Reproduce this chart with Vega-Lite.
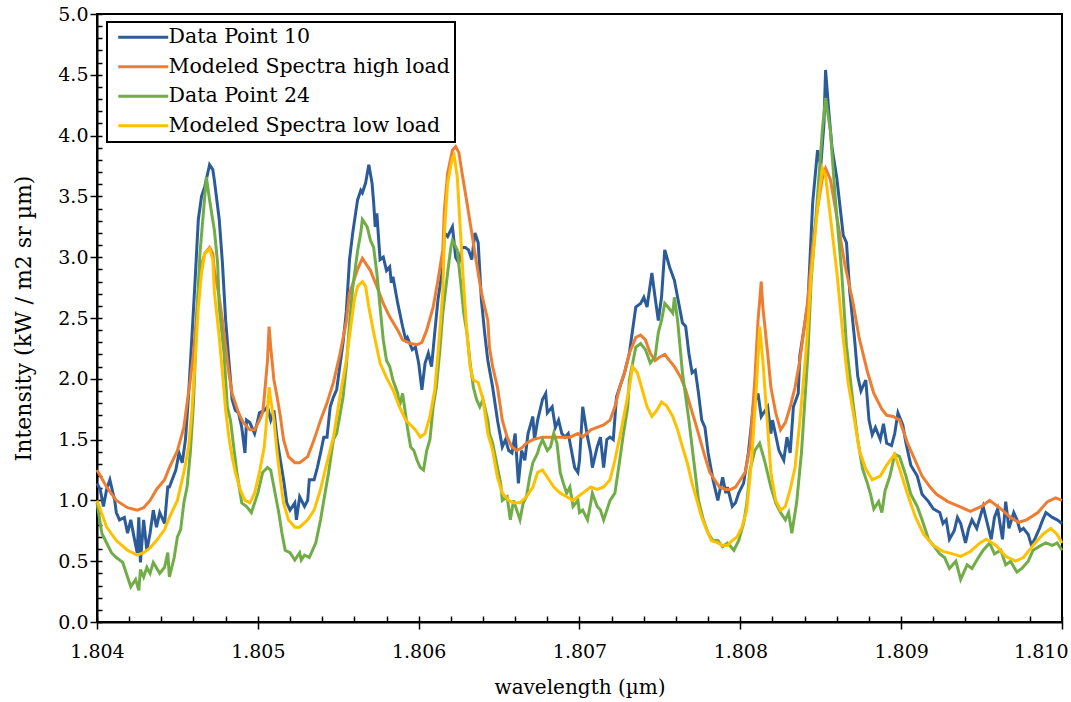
{
"$schema":"https://vega.github.io/schema/vega-lite/v6.json",
"width":965,"height":608,
"autosize":{"type":"none"},
"padding":{"left":97,"top":14,"right":9,"bottom":80},
"background":"white",
"config":{
"view":{"stroke":"black","strokeWidth":2},
"font":"DejaVu Serif",
"axis":{"grid":false,"domainColor":"black","domainWidth":2,"tickColor":"black","tickWidth":1.5,"labelColor":"black","titleColor":"black","labelFont":"DejaVu Serif","titleFont":"DejaVu Serif","titleFontWeight":"normal"},
"legend":{"strokeWidth":2}
},
"datasets":{
"dp10":[
{"wavelength":1.80400,"intensity":1.14},{"wavelength":1.80402,"intensity":1.09},{"wavelength":1.80404,"intensity":0.95},{"wavelength":1.80406,"intensity":1.09},{"wavelength":1.80408,"intensity":1.17},{"wavelength":1.80411,"intensity":1.00},{"wavelength":1.80412,"intensity":0.90},{"wavelength":1.80414,"intensity":0.84},{"wavelength":1.80417,"intensity":0.86},{"wavelength":1.80419,"intensity":0.73},{"wavelength":1.80421,"intensity":0.84},{"wavelength":1.80423,"intensity":0.70},{"wavelength":1.80425,"intensity":0.57},{"wavelength":1.80426,"intensity":0.86},{"wavelength":1.80427,"intensity":0.49},{"wavelength":1.80429,"intensity":0.84},{"wavelength":1.80431,"intensity":0.59},{"wavelength":1.80433,"intensity":0.73},{"wavelength":1.80435,"intensity":0.92},{"wavelength":1.80437,"intensity":0.78},{"wavelength":1.80439,"intensity":0.90},{"wavelength":1.80442,"intensity":0.81},{"wavelength":1.80444,"intensity":1.11},{"wavelength":1.80445,"intensity":1.11},{"wavelength":1.80449,"intensity":1.25},{"wavelength":1.80451,"intensity":1.39},{"wavelength":1.80453,"intensity":1.31},{"wavelength":1.80455,"intensity":1.50},{"wavelength":1.80457,"intensity":1.88},{"wavelength":1.80459,"intensity":2.34},{"wavelength":1.80461,"intensity":2.81},{"wavelength":1.80463,"intensity":3.31},{"wavelength":1.80465,"intensity":3.50},{"wavelength":1.80467,"intensity":3.58},{"wavelength":1.80470,"intensity":3.76},{"wavelength":1.80472,"intensity":3.72},{"wavelength":1.80473,"intensity":3.63},{"wavelength":1.80476,"intensity":3.31},{"wavelength":1.80478,"intensity":2.95},{"wavelength":1.80480,"intensity":2.48},{"wavelength":1.80482,"intensity":2.15},{"wavelength":1.80484,"intensity":1.83},{"wavelength":1.80486,"intensity":1.74},{"wavelength":1.80488,"intensity":1.72},{"wavelength":1.80490,"intensity":1.60},{"wavelength":1.80492,"intensity":1.39},{"wavelength":1.80493,"intensity":1.66},{"wavelength":1.80495,"intensity":1.64},{"wavelength":1.80498,"intensity":1.55},{"wavelength":1.80500,"intensity":1.66},{"wavelength":1.80501,"intensity":1.72},{"wavelength":1.80504,"intensity":1.74},{"wavelength":1.80506,"intensity":1.77},{"wavelength":1.80508,"intensity":1.66},{"wavelength":1.80510,"intensity":1.74},{"wavelength":1.80512,"intensity":1.50},{"wavelength":1.80514,"intensity":1.33},{"wavelength":1.80516,"intensity":1.17},{"wavelength":1.80518,"intensity":0.98},{"wavelength":1.80520,"intensity":0.92},{"wavelength":1.80523,"intensity":0.98},{"wavelength":1.80524,"intensity":0.84},{"wavelength":1.80526,"intensity":1.03},{"wavelength":1.80529,"intensity":0.95},{"wavelength":1.80531,"intensity":1.00},{"wavelength":1.80532,"intensity":1.17},{"wavelength":1.80535,"intensity":1.17},{"wavelength":1.80537,"intensity":1.27},{"wavelength":1.80539,"intensity":1.39},{"wavelength":1.80541,"intensity":1.52},{"wavelength":1.80543,"intensity":1.52},{"wavelength":1.80545,"intensity":1.77},{"wavelength":1.80547,"intensity":1.85},{"wavelength":1.80549,"intensity":1.91},{"wavelength":1.80553,"intensity":2.30},{"wavelength":1.80555,"intensity":2.55},{"wavelength":1.80557,"intensity":2.98},{"wavelength":1.80559,"intensity":3.20},{"wavelength":1.80562,"intensity":3.47},{"wavelength":1.80564,"intensity":3.55},{"wavelength":1.80565,"intensity":3.53},{"wavelength":1.80567,"intensity":3.61},{"wavelength":1.80569,"intensity":3.76},{"wavelength":1.80571,"intensity":3.61},{"wavelength":1.80572,"intensity":3.45},{"wavelength":1.80573,"intensity":3.25},{"wavelength":1.80574,"intensity":3.36},{"wavelength":1.80575,"intensity":3.17},{"wavelength":1.80576,"intensity":2.98},{"wavelength":1.80578,"intensity":3.00},{"wavelength":1.80580,"intensity":2.89},{"wavelength":1.80582,"intensity":2.92},{"wavelength":1.80583,"intensity":2.79},{"wavelength":1.80584,"intensity":2.84},{"wavelength":1.80587,"intensity":2.62},{"wavelength":1.80590,"intensity":2.43},{"wavelength":1.80592,"intensity":2.32},{"wavelength":1.80593,"intensity":2.34},{"wavelength":1.80596,"intensity":2.24},{"wavelength":1.80598,"intensity":2.26},{"wavelength":1.80600,"intensity":2.13},{"wavelength":1.80602,"intensity":1.91},{"wavelength":1.80604,"intensity":2.13},{"wavelength":1.80606,"intensity":2.21},{"wavelength":1.80608,"intensity":2.10},{"wavelength":1.80610,"intensity":2.38},{"wavelength":1.80612,"intensity":2.65},{"wavelength":1.80615,"intensity":2.92},{"wavelength":1.80616,"intensity":3.20},{"wavelength":1.80618,"intensity":3.17},{"wavelength":1.80621,"intensity":3.25},{"wavelength":1.80623,"intensity":3.00},{"wavelength":1.80625,"intensity":2.95},{"wavelength":1.80627,"intensity":3.08},{"wavelength":1.80629,"intensity":3.08},{"wavelength":1.80631,"intensity":3.06},{"wavelength":1.80633,"intensity":2.98},{"wavelength":1.80635,"intensity":3.20},{"wavelength":1.80637,"intensity":3.12},{"wavelength":1.80639,"intensity":2.65},{"wavelength":1.80641,"intensity":2.38},{"wavelength":1.80643,"intensity":2.15},{"wavelength":1.80646,"intensity":1.93},{"wavelength":1.80649,"intensity":1.66},{"wavelength":1.80652,"intensity":1.44},{"wavelength":1.80654,"intensity":1.50},{"wavelength":1.80656,"intensity":1.41},{"wavelength":1.80658,"intensity":1.39},{"wavelength":1.80660,"intensity":1.55},{"wavelength":1.80662,"intensity":1.14},{"wavelength":1.80664,"intensity":1.41},{"wavelength":1.80666,"intensity":1.33},{"wavelength":1.80668,"intensity":1.55},{"wavelength":1.80671,"intensity":1.69},{"wavelength":1.80672,"intensity":1.50},{"wavelength":1.80674,"intensity":1.66},{"wavelength":1.80677,"intensity":1.83},{"wavelength":1.80679,"intensity":1.88},{"wavelength":1.80680,"intensity":1.72},{"wavelength":1.80683,"intensity":1.77},{"wavelength":1.80685,"intensity":1.60},{"wavelength":1.80687,"intensity":1.66},{"wavelength":1.80689,"intensity":1.55},{"wavelength":1.80691,"intensity":1.52},{"wavelength":1.80693,"intensity":1.55},{"wavelength":1.80695,"intensity":1.41},{"wavelength":1.80697,"intensity":1.27},{"wavelength":1.80699,"intensity":1.23},{"wavelength":1.80700,"intensity":1.33},{"wavelength":1.80702,"intensity":1.77},{"wavelength":1.80705,"intensity":1.52},{"wavelength":1.80707,"intensity":1.39},{"wavelength":1.80708,"intensity":1.27},{"wavelength":1.80711,"intensity":1.44},{"wavelength":1.80713,"intensity":1.52},{"wavelength":1.80715,"intensity":1.27},{"wavelength":1.80717,"intensity":1.50},{"wavelength":1.80719,"intensity":1.52},{"wavelength":1.80721,"intensity":1.50},{"wavelength":1.80723,"intensity":1.85},{"wavelength":1.80725,"intensity":1.93},{"wavelength":1.80728,"intensity":2.05},{"wavelength":1.80731,"intensity":2.21},{"wavelength":1.80735,"intensity":2.59},{"wavelength":1.80738,"intensity":2.62},{"wavelength":1.80740,"intensity":2.67},{"wavelength":1.80742,"intensity":2.59},{"wavelength":1.80745,"intensity":2.87},{"wavelength":1.80747,"intensity":2.67},{"wavelength":1.80749,"intensity":2.48},{"wavelength":1.80751,"intensity":2.67},{"wavelength":1.80753,"intensity":3.06},{"wavelength":1.80756,"intensity":2.92},{"wavelength":1.80759,"intensity":2.81},{"wavelength":1.80761,"intensity":2.67},{"wavelength":1.80764,"intensity":2.46},{"wavelength":1.80766,"intensity":2.43},{"wavelength":1.80768,"intensity":2.21},{"wavelength":1.80770,"intensity":2.05},{"wavelength":1.80772,"intensity":2.07},{"wavelength":1.80774,"intensity":1.88},{"wavelength":1.80776,"intensity":1.66},{"wavelength":1.80778,"intensity":1.60},{"wavelength":1.80780,"intensity":1.39},{"wavelength":1.80783,"intensity":1.17},{"wavelength":1.80786,"intensity":1.00},{"wavelength":1.80789,"intensity":1.19},{"wavelength":1.80791,"intensity":1.06},{"wavelength":1.80792,"intensity":1.11},{"wavelength":1.80795,"intensity":0.95},{"wavelength":1.80797,"intensity":0.98},{"wavelength":1.80799,"intensity":1.06},{"wavelength":1.80802,"intensity":1.14},{"wavelength":1.80805,"intensity":1.39},{"wavelength":1.80808,"intensity":1.77},{"wavelength":1.80811,"intensity":1.88},{"wavelength":1.80813,"intensity":1.69},{"wavelength":1.80817,"intensity":1.77},{"wavelength":1.80819,"intensity":1.55},{"wavelength":1.80820,"intensity":1.66},{"wavelength":1.80824,"intensity":1.41},{"wavelength":1.80827,"intensity":1.33},{"wavelength":1.80829,"intensity":1.52},{"wavelength":1.80831,"intensity":1.39},{"wavelength":1.80833,"intensity":1.77},{"wavelength":1.80836,"intensity":1.88},{"wavelength":1.80837,"intensity":2.19},{"wavelength":1.80842,"intensity":2.62},{"wavelength":1.80845,"intensity":3.45},{"wavelength":1.80848,"intensity":3.88},{"wavelength":1.80850,"intensity":3.75},{"wavelength":1.80852,"intensity":4.10},{"wavelength":1.80853,"intensity":4.54},{"wavelength":1.80855,"intensity":4.20},{"wavelength":1.80857,"intensity":3.90},{"wavelength":1.80860,"intensity":3.65},{"wavelength":1.80864,"intensity":3.18},{"wavelength":1.80866,"intensity":3.12},{"wavelength":1.80868,"intensity":2.72},{"wavelength":1.80871,"intensity":2.33},{"wavelength":1.80873,"intensity":2.02},{"wavelength":1.80875,"intensity":1.90},{"wavelength":1.80878,"intensity":1.99},{"wavelength":1.80880,"intensity":1.66},{"wavelength":1.80882,"intensity":1.54},{"wavelength":1.80884,"intensity":1.60},{"wavelength":1.80887,"intensity":1.50},{"wavelength":1.80889,"intensity":1.63},{"wavelength":1.80891,"intensity":1.47},{"wavelength":1.80894,"intensity":1.45},{"wavelength":1.80896,"intensity":1.55},{"wavelength":1.80898,"intensity":1.72},{"wavelength":1.80901,"intensity":1.62},{"wavelength":1.80903,"intensity":1.47},{"wavelength":1.80906,"intensity":1.29},{"wavelength":1.80910,"intensity":1.20},{"wavelength":1.80913,"intensity":1.05},{"wavelength":1.80917,"intensity":0.99},{"wavelength":1.80920,"intensity":0.93},{"wavelength":1.80924,"intensity":0.90},{"wavelength":1.80926,"intensity":0.81},{"wavelength":1.80928,"intensity":0.84},{"wavelength":1.80930,"intensity":0.68},{"wavelength":1.80933,"intensity":0.75},{"wavelength":1.80935,"intensity":0.86},{"wavelength":1.80937,"intensity":0.81},{"wavelength":1.80940,"intensity":0.65},{"wavelength":1.80942,"intensity":0.77},{"wavelength":1.80944,"intensity":0.84},{"wavelength":1.80947,"intensity":0.77},{"wavelength":1.80949,"intensity":0.86},{"wavelength":1.80951,"intensity":0.95},{"wavelength":1.80953,"intensity":0.84},{"wavelength":1.80956,"intensity":0.68},{"wavelength":1.80958,"intensity":0.86},{"wavelength":1.80960,"intensity":0.93},{"wavelength":1.80963,"intensity":0.68},{"wavelength":1.80965,"intensity":0.99},{"wavelength":1.80967,"intensity":0.77},{"wavelength":1.80970,"intensity":0.90},{"wavelength":1.80972,"intensity":0.84},{"wavelength":1.80974,"intensity":0.75},{"wavelength":1.80976,"intensity":0.77},{"wavelength":1.80979,"intensity":0.72},{"wavelength":1.80981,"intensity":0.63},{"wavelength":1.80983,"intensity":0.68},{"wavelength":1.80986,"intensity":0.77},{"wavelength":1.80988,"intensity":0.84},{"wavelength":1.80990,"intensity":0.90},{"wavelength":1.80994,"intensity":0.86},{"wavelength":1.80997,"intensity":0.84},{"wavelength":1.81000,"intensity":0.81}
],
"high":[
{"wavelength":1.80400,"intensity":1.25},{"wavelength":1.80406,"intensity":1.11},{"wavelength":1.80412,"intensity":1.00},{"wavelength":1.80419,"intensity":0.94},{"wavelength":1.80425,"intensity":0.92},{"wavelength":1.80429,"intensity":0.94},{"wavelength":1.80433,"intensity":1.00},{"wavelength":1.80437,"intensity":1.09},{"wavelength":1.80442,"intensity":1.17},{"wavelength":1.80445,"intensity":1.27},{"wavelength":1.80450,"intensity":1.41},{"wavelength":1.80454,"intensity":1.60},{"wavelength":1.80456,"intensity":1.80},{"wavelength":1.80458,"intensity":1.99},{"wavelength":1.80460,"intensity":2.21},{"wavelength":1.80462,"intensity":2.54},{"wavelength":1.80464,"intensity":2.89},{"wavelength":1.80467,"intensity":3.03},{"wavelength":1.80470,"intensity":3.08},{"wavelength":1.80472,"intensity":3.03},{"wavelength":1.80473,"intensity":2.89},{"wavelength":1.80476,"intensity":2.67},{"wavelength":1.80478,"intensity":2.48},{"wavelength":1.80480,"intensity":2.26},{"wavelength":1.80482,"intensity":2.05},{"wavelength":1.80484,"intensity":1.88},{"wavelength":1.80486,"intensity":1.80},{"wavelength":1.80488,"intensity":1.72},{"wavelength":1.80491,"intensity":1.64},{"wavelength":1.80495,"intensity":1.58},{"wavelength":1.80498,"intensity":1.58},{"wavelength":1.80501,"intensity":1.66},{"wavelength":1.80503,"intensity":1.72},{"wavelength":1.80504,"intensity":1.85},{"wavelength":1.80506,"intensity":2.15},{"wavelength":1.80507,"intensity":2.43},{"wavelength":1.80508,"intensity":2.26},{"wavelength":1.80510,"intensity":1.99},{"wavelength":1.80512,"intensity":1.85},{"wavelength":1.80514,"intensity":1.69},{"wavelength":1.80516,"intensity":1.50},{"wavelength":1.80519,"intensity":1.36},{"wavelength":1.80523,"intensity":1.31},{"wavelength":1.80526,"intensity":1.31},{"wavelength":1.80531,"intensity":1.36},{"wavelength":1.80535,"intensity":1.50},{"wavelength":1.80539,"intensity":1.66},{"wavelength":1.80543,"intensity":1.80},{"wavelength":1.80547,"intensity":1.97},{"wavelength":1.80551,"intensity":2.20},{"wavelength":1.80555,"intensity":2.47},{"wavelength":1.80557,"intensity":2.70},{"wavelength":1.80562,"intensity":2.90},{"wavelength":1.80565,"intensity":2.99},{"wavelength":1.80570,"intensity":2.89},{"wavelength":1.80574,"intensity":2.76},{"wavelength":1.80578,"intensity":2.62},{"wavelength":1.80582,"intensity":2.51},{"wavelength":1.80587,"intensity":2.40},{"wavelength":1.80590,"intensity":2.32},{"wavelength":1.80595,"intensity":2.29},{"wavelength":1.80599,"intensity":2.28},{"wavelength":1.80602,"intensity":2.30},{"wavelength":1.80605,"intensity":2.40},{"wavelength":1.80609,"intensity":2.59},{"wavelength":1.80612,"intensity":2.81},{"wavelength":1.80615,"intensity":3.06},{"wavelength":1.80616,"intensity":3.39},{"wavelength":1.80618,"intensity":3.69},{"wavelength":1.80621,"intensity":3.88},{"wavelength":1.80623,"intensity":3.91},{"wavelength":1.80625,"intensity":3.86},{"wavelength":1.80627,"intensity":3.69},{"wavelength":1.80630,"intensity":3.45},{"wavelength":1.80633,"intensity":3.20},{"wavelength":1.80636,"intensity":2.95},{"wavelength":1.80639,"intensity":2.71},{"wavelength":1.80643,"intensity":2.48},{"wavelength":1.80644,"intensity":2.26},{"wavelength":1.80646,"intensity":2.10},{"wavelength":1.80649,"intensity":1.93},{"wavelength":1.80652,"intensity":1.66},{"wavelength":1.80655,"intensity":1.52},{"wavelength":1.80658,"intensity":1.44},{"wavelength":1.80661,"intensity":1.41},{"wavelength":1.80664,"intensity":1.43},{"wavelength":1.80667,"intensity":1.47},{"wavelength":1.80671,"intensity":1.50},{"wavelength":1.80677,"intensity":1.52},{"wavelength":1.80683,"intensity":1.52},{"wavelength":1.80690,"intensity":1.52},{"wavelength":1.80694,"intensity":1.52},{"wavelength":1.80699,"intensity":1.55},{"wavelength":1.80702,"intensity":1.52},{"wavelength":1.80707,"intensity":1.58},{"wavelength":1.80711,"intensity":1.60},{"wavelength":1.80715,"intensity":1.62},{"wavelength":1.80719,"intensity":1.66},{"wavelength":1.80722,"intensity":1.77},{"wavelength":1.80725,"intensity":1.93},{"wavelength":1.80728,"intensity":2.05},{"wavelength":1.80731,"intensity":2.21},{"wavelength":1.80735,"intensity":2.34},{"wavelength":1.80738,"intensity":2.36},{"wavelength":1.80741,"intensity":2.32},{"wavelength":1.80744,"intensity":2.21},{"wavelength":1.80747,"intensity":2.15},{"wavelength":1.80750,"intensity":2.18},{"wavelength":1.80753,"intensity":2.20},{"wavelength":1.80756,"intensity":2.15},{"wavelength":1.80759,"intensity":2.10},{"wavelength":1.80763,"intensity":2.01},{"wavelength":1.80766,"intensity":1.91},{"wavelength":1.80769,"intensity":1.77},{"wavelength":1.80772,"intensity":1.64},{"wavelength":1.80775,"intensity":1.50},{"wavelength":1.80778,"intensity":1.36},{"wavelength":1.80781,"intensity":1.23},{"wavelength":1.80784,"intensity":1.17},{"wavelength":1.80787,"intensity":1.11},{"wavelength":1.80791,"intensity":1.09},{"wavelength":1.80794,"intensity":1.09},{"wavelength":1.80797,"intensity":1.11},{"wavelength":1.80800,"intensity":1.17},{"wavelength":1.80803,"intensity":1.23},{"wavelength":1.80806,"intensity":1.44},{"wavelength":1.80809,"intensity":1.99},{"wavelength":1.80811,"intensity":2.48},{"wavelength":1.80813,"intensity":2.80},{"wavelength":1.80814,"intensity":2.59},{"wavelength":1.80817,"intensity":2.21},{"wavelength":1.80819,"intensity":1.93},{"wavelength":1.80822,"intensity":1.72},{"wavelength":1.80825,"intensity":1.58},{"wavelength":1.80828,"intensity":1.64},{"wavelength":1.80831,"intensity":1.77},{"wavelength":1.80834,"intensity":1.93},{"wavelength":1.80837,"intensity":2.15},{"wavelength":1.80842,"intensity":2.65},{"wavelength":1.80845,"intensity":3.10},{"wavelength":1.80848,"intensity":3.40},{"wavelength":1.80851,"intensity":3.65},{"wavelength":1.80853,"intensity":3.73},{"wavelength":1.80856,"intensity":3.64},{"wavelength":1.80860,"intensity":3.33},{"wavelength":1.80865,"intensity":2.94},{"wavelength":1.80870,"intensity":2.63},{"wavelength":1.80874,"intensity":2.33},{"wavelength":1.80879,"intensity":2.06},{"wavelength":1.80883,"intensity":1.88},{"wavelength":1.80888,"intensity":1.75},{"wavelength":1.80891,"intensity":1.70},{"wavelength":1.80895,"intensity":1.69},{"wavelength":1.80899,"intensity":1.66},{"wavelength":1.80904,"intensity":1.47},{"wavelength":1.80909,"intensity":1.32},{"wavelength":1.80913,"intensity":1.20},{"wavelength":1.80918,"intensity":1.11},{"wavelength":1.80922,"intensity":1.05},{"wavelength":1.80929,"intensity":0.99},{"wavelength":1.80936,"intensity":0.95},{"wavelength":1.80943,"intensity":0.91},{"wavelength":1.80950,"intensity":0.95},{"wavelength":1.80955,"intensity":1.00},{"wavelength":1.80962,"intensity":0.93},{"wavelength":1.80968,"intensity":0.86},{"wavelength":1.80973,"intensity":0.82},{"wavelength":1.80978,"intensity":0.84},{"wavelength":1.80985,"intensity":0.90},{"wavelength":1.80991,"intensity":0.99},{"wavelength":1.80996,"intensity":1.02},{"wavelength":1.81000,"intensity":1.00}
],
"dp24":[
{"wavelength":1.80400,"intensity":0.98},{"wavelength":1.80403,"intensity":0.73},{"wavelength":1.80406,"intensity":0.65},{"wavelength":1.80409,"intensity":0.57},{"wavelength":1.80412,"intensity":0.53},{"wavelength":1.80416,"intensity":0.49},{"wavelength":1.80419,"intensity":0.37},{"wavelength":1.80421,"intensity":0.29},{"wavelength":1.80424,"intensity":0.35},{"wavelength":1.80426,"intensity":0.26},{"wavelength":1.80427,"intensity":0.43},{"wavelength":1.80429,"intensity":0.37},{"wavelength":1.80431,"intensity":0.45},{"wavelength":1.80433,"intensity":0.40},{"wavelength":1.80435,"intensity":0.49},{"wavelength":1.80439,"intensity":0.40},{"wavelength":1.80442,"intensity":0.45},{"wavelength":1.80444,"intensity":0.57},{"wavelength":1.80445,"intensity":0.37},{"wavelength":1.80448,"intensity":0.53},{"wavelength":1.80450,"intensity":0.70},{"wavelength":1.80452,"intensity":0.76},{"wavelength":1.80454,"intensity":0.98},{"wavelength":1.80456,"intensity":1.11},{"wavelength":1.80458,"intensity":1.39},{"wavelength":1.80460,"intensity":1.80},{"wavelength":1.80462,"intensity":2.48},{"wavelength":1.80464,"intensity":3.03},{"wavelength":1.80467,"intensity":3.50},{"wavelength":1.80468,"intensity":3.66},{"wavelength":1.80470,"intensity":3.47},{"wavelength":1.80473,"intensity":3.22},{"wavelength":1.80475,"intensity":2.95},{"wavelength":1.80476,"intensity":2.59},{"wavelength":1.80479,"intensity":2.21},{"wavelength":1.80481,"intensity":1.77},{"wavelength":1.80483,"intensity":1.66},{"wavelength":1.80485,"intensity":1.44},{"wavelength":1.80487,"intensity":1.23},{"wavelength":1.80490,"intensity":0.98},{"wavelength":1.80493,"intensity":0.95},{"wavelength":1.80496,"intensity":0.90},{"wavelength":1.80500,"intensity":1.06},{"wavelength":1.80503,"intensity":1.23},{"wavelength":1.80506,"intensity":1.27},{"wavelength":1.80508,"intensity":1.25},{"wavelength":1.80510,"intensity":1.11},{"wavelength":1.80513,"intensity":0.90},{"wavelength":1.80515,"intensity":0.73},{"wavelength":1.80517,"intensity":0.59},{"wavelength":1.80520,"intensity":0.57},{"wavelength":1.80523,"intensity":0.51},{"wavelength":1.80526,"intensity":0.57},{"wavelength":1.80527,"intensity":0.51},{"wavelength":1.80529,"intensity":0.55},{"wavelength":1.80532,"intensity":0.53},{"wavelength":1.80536,"intensity":0.65},{"wavelength":1.80539,"intensity":0.84},{"wavelength":1.80541,"intensity":1.00},{"wavelength":1.80544,"intensity":1.23},{"wavelength":1.80547,"intensity":1.50},{"wavelength":1.80549,"intensity":1.55},{"wavelength":1.80553,"intensity":1.85},{"wavelength":1.80555,"intensity":2.10},{"wavelength":1.80557,"intensity":2.45},{"wavelength":1.80559,"intensity":2.75},{"wavelength":1.80562,"intensity":3.05},{"wavelength":1.80564,"intensity":3.20},{"wavelength":1.80565,"intensity":3.31},{"wavelength":1.80568,"intensity":3.25},{"wavelength":1.80570,"intensity":3.14},{"wavelength":1.80572,"intensity":3.08},{"wavelength":1.80574,"intensity":2.87},{"wavelength":1.80576,"intensity":2.59},{"wavelength":1.80578,"intensity":2.32},{"wavelength":1.80580,"intensity":2.15},{"wavelength":1.80582,"intensity":2.10},{"wavelength":1.80584,"intensity":1.99},{"wavelength":1.80587,"intensity":1.88},{"wavelength":1.80588,"intensity":1.77},{"wavelength":1.80590,"intensity":1.88},{"wavelength":1.80593,"intensity":1.60},{"wavelength":1.80595,"intensity":1.44},{"wavelength":1.80597,"intensity":1.41},{"wavelength":1.80599,"intensity":1.33},{"wavelength":1.80601,"intensity":1.27},{"wavelength":1.80603,"intensity":1.25},{"wavelength":1.80605,"intensity":1.41},{"wavelength":1.80607,"intensity":1.50},{"wavelength":1.80609,"intensity":1.77},{"wavelength":1.80611,"intensity":1.93},{"wavelength":1.80613,"intensity":2.21},{"wavelength":1.80615,"intensity":2.54},{"wavelength":1.80618,"intensity":2.87},{"wavelength":1.80620,"intensity":3.08},{"wavelength":1.80621,"intensity":3.14},{"wavelength":1.80624,"intensity":3.06},{"wavelength":1.80626,"intensity":2.81},{"wavelength":1.80628,"intensity":2.54},{"wavelength":1.80630,"intensity":2.38},{"wavelength":1.80632,"intensity":2.13},{"wavelength":1.80634,"intensity":1.93},{"wavelength":1.80636,"intensity":1.83},{"wavelength":1.80638,"intensity":1.77},{"wavelength":1.80640,"intensity":1.83},{"wavelength":1.80643,"intensity":1.66},{"wavelength":1.80644,"intensity":1.55},{"wavelength":1.80646,"intensity":1.47},{"wavelength":1.80649,"intensity":1.27},{"wavelength":1.80651,"intensity":1.14},{"wavelength":1.80652,"intensity":1.00},{"wavelength":1.80655,"intensity":1.03},{"wavelength":1.80657,"intensity":0.84},{"wavelength":1.80659,"intensity":1.00},{"wavelength":1.80661,"intensity":0.92},{"wavelength":1.80663,"intensity":0.84},{"wavelength":1.80665,"intensity":0.98},{"wavelength":1.80667,"intensity":1.03},{"wavelength":1.80669,"intensity":1.19},{"wavelength":1.80671,"intensity":1.31},{"wavelength":1.80674,"intensity":1.39},{"wavelength":1.80675,"intensity":1.44},{"wavelength":1.80677,"intensity":1.50},{"wavelength":1.80680,"intensity":1.41},{"wavelength":1.80682,"intensity":1.44},{"wavelength":1.80684,"intensity":1.55},{"wavelength":1.80686,"intensity":1.47},{"wavelength":1.80688,"intensity":1.23},{"wavelength":1.80690,"intensity":1.14},{"wavelength":1.80692,"intensity":1.06},{"wavelength":1.80694,"intensity":1.11},{"wavelength":1.80696,"intensity":0.95},{"wavelength":1.80699,"intensity":1.00},{"wavelength":1.80700,"intensity":0.90},{"wavelength":1.80702,"intensity":0.92},{"wavelength":1.80705,"intensity":0.84},{"wavelength":1.80707,"intensity":0.98},{"wavelength":1.80708,"intensity":1.06},{"wavelength":1.80711,"intensity":0.95},{"wavelength":1.80713,"intensity":0.92},{"wavelength":1.80715,"intensity":0.84},{"wavelength":1.80717,"intensity":0.92},{"wavelength":1.80719,"intensity":1.00},{"wavelength":1.80722,"intensity":1.06},{"wavelength":1.80725,"intensity":1.33},{"wavelength":1.80727,"intensity":1.52},{"wavelength":1.80730,"intensity":1.77},{"wavelength":1.80731,"intensity":1.99},{"wavelength":1.80735,"intensity":2.26},{"wavelength":1.80738,"intensity":2.29},{"wavelength":1.80741,"intensity":2.24},{"wavelength":1.80744,"intensity":2.13},{"wavelength":1.80747,"intensity":2.18},{"wavelength":1.80749,"intensity":2.38},{"wavelength":1.80751,"intensity":2.48},{"wavelength":1.80753,"intensity":2.62},{"wavelength":1.80755,"intensity":2.59},{"wavelength":1.80758,"intensity":2.54},{"wavelength":1.80759,"intensity":2.67},{"wavelength":1.80761,"intensity":2.48},{"wavelength":1.80764,"intensity":2.05},{"wavelength":1.80768,"intensity":1.66},{"wavelength":1.80771,"intensity":1.33},{"wavelength":1.80774,"intensity":1.00},{"wavelength":1.80777,"intensity":0.84},{"wavelength":1.80780,"intensity":0.73},{"wavelength":1.80783,"intensity":0.67},{"wavelength":1.80786,"intensity":0.67},{"wavelength":1.80789,"intensity":0.62},{"wavelength":1.80792,"intensity":0.65},{"wavelength":1.80796,"intensity":0.59},{"wavelength":1.80799,"intensity":0.67},{"wavelength":1.80802,"intensity":0.81},{"wavelength":1.80804,"intensity":0.97},{"wavelength":1.80806,"intensity":1.25},{"wavelength":1.80809,"intensity":1.41},{"wavelength":1.80812,"intensity":1.47},{"wavelength":1.80815,"intensity":1.33},{"wavelength":1.80819,"intensity":1.11},{"wavelength":1.80822,"intensity":0.98},{"wavelength":1.80825,"intensity":0.90},{"wavelength":1.80828,"intensity":0.84},{"wavelength":1.80830,"intensity":0.90},{"wavelength":1.80832,"intensity":0.73},{"wavelength":1.80835,"intensity":0.98},{"wavelength":1.80838,"intensity":1.39},{"wavelength":1.80842,"intensity":2.20},{"wavelength":1.80844,"intensity":2.80},{"wavelength":1.80848,"intensity":3.50},{"wavelength":1.80851,"intensity":4.05},{"wavelength":1.80853,"intensity":4.31},{"wavelength":1.80856,"intensity":4.04},{"wavelength":1.80859,"intensity":3.49},{"wavelength":1.80863,"intensity":2.88},{"wavelength":1.80866,"intensity":2.27},{"wavelength":1.80870,"intensity":1.81},{"wavelength":1.80873,"intensity":1.50},{"wavelength":1.80876,"intensity":1.26},{"wavelength":1.80879,"intensity":1.14},{"wavelength":1.80881,"intensity":1.05},{"wavelength":1.80883,"intensity":0.93},{"wavelength":1.80886,"intensity":0.99},{"wavelength":1.80888,"intensity":0.90},{"wavelength":1.80890,"intensity":1.08},{"wavelength":1.80893,"intensity":1.20},{"wavelength":1.80896,"intensity":1.38},{"wavelength":1.80899,"intensity":1.36},{"wavelength":1.80903,"intensity":1.20},{"wavelength":1.80906,"intensity":1.05},{"wavelength":1.80910,"intensity":0.95},{"wavelength":1.80913,"intensity":0.84},{"wavelength":1.80917,"intensity":0.68},{"wavelength":1.80920,"intensity":0.63},{"wavelength":1.80924,"intensity":0.56},{"wavelength":1.80927,"intensity":0.53},{"wavelength":1.80930,"intensity":0.44},{"wavelength":1.80934,"intensity":0.50},{"wavelength":1.80937,"intensity":0.35},{"wavelength":1.80941,"intensity":0.47},{"wavelength":1.80944,"intensity":0.44},{"wavelength":1.80948,"intensity":0.53},{"wavelength":1.80951,"intensity":0.59},{"wavelength":1.80955,"intensity":0.65},{"wavelength":1.80958,"intensity":0.56},{"wavelength":1.80962,"intensity":0.59},{"wavelength":1.80965,"intensity":0.47},{"wavelength":1.80968,"intensity":0.50},{"wavelength":1.80972,"intensity":0.41},{"wavelength":1.80975,"intensity":0.44},{"wavelength":1.80979,"intensity":0.50},{"wavelength":1.80982,"intensity":0.59},{"wavelength":1.80987,"intensity":0.63},{"wavelength":1.80990,"intensity":0.65},{"wavelength":1.80994,"intensity":0.63},{"wavelength":1.80997,"intensity":0.65},{"wavelength":1.81000,"intensity":0.59}
],
"low":[
{"wavelength":1.80400,"intensity":1.00},{"wavelength":1.80406,"intensity":0.78},{"wavelength":1.80412,"intensity":0.67},{"wavelength":1.80419,"intensity":0.59},{"wavelength":1.80425,"intensity":0.55},{"wavelength":1.80429,"intensity":0.57},{"wavelength":1.80433,"intensity":0.61},{"wavelength":1.80437,"intensity":0.67},{"wavelength":1.80442,"intensity":0.76},{"wavelength":1.80445,"intensity":0.86},{"wavelength":1.80450,"intensity":1.00},{"wavelength":1.80454,"intensity":1.23},{"wavelength":1.80457,"intensity":1.44},{"wavelength":1.80459,"intensity":1.74},{"wavelength":1.80461,"intensity":2.15},{"wavelength":1.80463,"intensity":2.59},{"wavelength":1.80465,"intensity":2.87},{"wavelength":1.80467,"intensity":3.03},{"wavelength":1.80470,"intensity":3.07},{"wavelength":1.80472,"intensity":2.98},{"wavelength":1.80473,"intensity":2.71},{"wavelength":1.80476,"intensity":2.34},{"wavelength":1.80478,"intensity":2.05},{"wavelength":1.80480,"intensity":1.74},{"wavelength":1.80482,"intensity":1.52},{"wavelength":1.80484,"intensity":1.36},{"wavelength":1.80486,"intensity":1.23},{"wavelength":1.80489,"intensity":1.09},{"wavelength":1.80492,"intensity":1.00},{"wavelength":1.80495,"intensity":0.98},{"wavelength":1.80498,"intensity":1.06},{"wavelength":1.80501,"intensity":1.23},{"wavelength":1.80504,"intensity":1.44},{"wavelength":1.80506,"intensity":1.74},{"wavelength":1.80507,"intensity":1.93},{"wavelength":1.80508,"intensity":1.83},{"wavelength":1.80510,"intensity":1.66},{"wavelength":1.80512,"intensity":1.39},{"wavelength":1.80514,"intensity":1.17},{"wavelength":1.80516,"intensity":0.98},{"wavelength":1.80519,"intensity":0.84},{"wavelength":1.80523,"intensity":0.78},{"wavelength":1.80526,"intensity":0.78},{"wavelength":1.80531,"intensity":0.84},{"wavelength":1.80535,"intensity":0.92},{"wavelength":1.80539,"intensity":1.09},{"wavelength":1.80543,"intensity":1.31},{"wavelength":1.80547,"intensity":1.52},{"wavelength":1.80551,"intensity":1.85},{"wavelength":1.80555,"intensity":2.15},{"wavelength":1.80557,"intensity":2.35},{"wavelength":1.80560,"intensity":2.65},{"wavelength":1.80562,"intensity":2.76},{"wavelength":1.80565,"intensity":2.80},{"wavelength":1.80567,"intensity":2.76},{"wavelength":1.80569,"intensity":2.59},{"wavelength":1.80572,"intensity":2.38},{"wavelength":1.80576,"intensity":2.13},{"wavelength":1.80580,"intensity":2.01},{"wavelength":1.80584,"intensity":1.91},{"wavelength":1.80588,"intensity":1.77},{"wavelength":1.80592,"intensity":1.66},{"wavelength":1.80595,"intensity":1.62},{"wavelength":1.80598,"intensity":1.58},{"wavelength":1.80601,"intensity":1.52},{"wavelength":1.80604,"intensity":1.55},{"wavelength":1.80607,"intensity":1.69},{"wavelength":1.80610,"intensity":1.91},{"wavelength":1.80612,"intensity":2.21},{"wavelength":1.80615,"intensity":2.71},{"wavelength":1.80616,"intensity":3.20},{"wavelength":1.80618,"intensity":3.61},{"wavelength":1.80621,"intensity":3.82},{"wavelength":1.80622,"intensity":3.84},{"wavelength":1.80624,"intensity":3.66},{"wavelength":1.80626,"intensity":3.20},{"wavelength":1.80628,"intensity":2.76},{"wavelength":1.80630,"intensity":2.38},{"wavelength":1.80632,"intensity":2.10},{"wavelength":1.80634,"intensity":1.99},{"wavelength":1.80637,"intensity":1.97},{"wavelength":1.80640,"intensity":1.83},{"wavelength":1.80643,"intensity":1.55},{"wavelength":1.80646,"intensity":1.41},{"wavelength":1.80649,"intensity":1.19},{"wavelength":1.80652,"intensity":1.06},{"wavelength":1.80656,"intensity":1.00},{"wavelength":1.80659,"intensity":0.98},{"wavelength":1.80663,"intensity":0.98},{"wavelength":1.80667,"intensity":1.03},{"wavelength":1.80671,"intensity":1.11},{"wavelength":1.80674,"intensity":1.23},{"wavelength":1.80677,"intensity":1.25},{"wavelength":1.80680,"intensity":1.19},{"wavelength":1.80684,"intensity":1.11},{"wavelength":1.80688,"intensity":1.06},{"wavelength":1.80692,"intensity":1.03},{"wavelength":1.80696,"intensity":1.00},{"wavelength":1.80699,"intensity":1.03},{"wavelength":1.80702,"intensity":1.06},{"wavelength":1.80707,"intensity":1.11},{"wavelength":1.80711,"intensity":1.09},{"wavelength":1.80715,"intensity":1.11},{"wavelength":1.80719,"intensity":1.17},{"wavelength":1.80722,"intensity":1.33},{"wavelength":1.80725,"intensity":1.52},{"wavelength":1.80728,"intensity":1.72},{"wavelength":1.80731,"intensity":1.93},{"wavelength":1.80733,"intensity":2.10},{"wavelength":1.80736,"intensity":2.05},{"wavelength":1.80739,"intensity":1.91},{"wavelength":1.80742,"intensity":1.77},{"wavelength":1.80745,"intensity":1.69},{"wavelength":1.80748,"intensity":1.74},{"wavelength":1.80751,"intensity":1.81},{"wavelength":1.80754,"intensity":1.78},{"wavelength":1.80758,"intensity":1.69},{"wavelength":1.80761,"intensity":1.58},{"wavelength":1.80764,"intensity":1.44},{"wavelength":1.80767,"intensity":1.31},{"wavelength":1.80770,"intensity":1.14},{"wavelength":1.80773,"intensity":1.00},{"wavelength":1.80776,"intensity":0.86},{"wavelength":1.80779,"intensity":0.76},{"wavelength":1.80782,"intensity":0.67},{"wavelength":1.80786,"intensity":0.65},{"wavelength":1.80789,"intensity":0.63},{"wavelength":1.80792,"intensity":0.63},{"wavelength":1.80795,"intensity":0.67},{"wavelength":1.80798,"intensity":0.70},{"wavelength":1.80801,"intensity":0.78},{"wavelength":1.80804,"intensity":0.92},{"wavelength":1.80807,"intensity":1.33},{"wavelength":1.80810,"intensity":1.93},{"wavelength":1.80812,"intensity":2.43},{"wavelength":1.80814,"intensity":2.15},{"wavelength":1.80817,"intensity":1.60},{"wavelength":1.80819,"intensity":1.23},{"wavelength":1.80822,"intensity":1.00},{"wavelength":1.80825,"intensity":0.92},{"wavelength":1.80828,"intensity":0.95},{"wavelength":1.80831,"intensity":1.09},{"wavelength":1.80834,"intensity":1.27},{"wavelength":1.80837,"intensity":1.65},{"wavelength":1.80841,"intensity":2.25},{"wavelength":1.80844,"intensity":2.85},{"wavelength":1.80848,"intensity":3.40},{"wavelength":1.80851,"intensity":3.73},{"wavelength":1.80853,"intensity":3.67},{"wavelength":1.80856,"intensity":3.33},{"wavelength":1.80860,"intensity":2.88},{"wavelength":1.80864,"intensity":2.33},{"wavelength":1.80867,"intensity":1.97},{"wavelength":1.80871,"intensity":1.66},{"wavelength":1.80874,"intensity":1.41},{"wavelength":1.80878,"intensity":1.26},{"wavelength":1.80882,"intensity":1.17},{"wavelength":1.80887,"intensity":1.20},{"wavelength":1.80891,"intensity":1.29},{"wavelength":1.80896,"intensity":1.38},{"wavelength":1.80899,"intensity":1.26},{"wavelength":1.80904,"intensity":1.05},{"wavelength":1.80909,"intensity":0.86},{"wavelength":1.80914,"intensity":0.72},{"wavelength":1.80920,"intensity":0.63},{"wavelength":1.80926,"intensity":0.58},{"wavelength":1.80932,"intensity":0.56},{"wavelength":1.80937,"intensity":0.54},{"wavelength":1.80943,"intensity":0.58},{"wavelength":1.80949,"intensity":0.65},{"wavelength":1.80953,"intensity":0.68},{"wavelength":1.80959,"intensity":0.63},{"wavelength":1.80965,"intensity":0.54},{"wavelength":1.80971,"intensity":0.50},{"wavelength":1.80976,"intensity":0.53},{"wavelength":1.80982,"intensity":0.63},{"wavelength":1.80988,"intensity":0.72},{"wavelength":1.80993,"intensity":0.77},{"wavelength":1.80997,"intensity":0.72},{"wavelength":1.81000,"intensity":0.65}
]
},
"layer":[
{"data":{"name":"dp10"},"mark":{"type":"line","strokeWidth":3},
"encoding":{
"x":{"field":"wavelength","type":"quantitative","scale":{"domain":[1.804,1.81],"nice":false,"zero":false},
"axis":{"orient":"bottom","values":[1.804,1.805,1.806,1.807,1.808,1.809,1.81],"format":".3f","tickSize":7,"labelFontSize":19,"labelPadding":13,"labelFlush":false,"labelAlign":{"condition":{"test":"datum.value > 1.8099","value":"right"},"value":"center"},"labelOffset":{"condition":{"test":"datum.value > 1.8099","value":6},"value":0},"title":"wavelength (µm)","titleFontSize":20,"titlePadding":16}},
"y":{"field":"intensity","type":"quantitative","scale":{"domain":[0,5],"nice":false},
"axis":{"orient":"left","values":[0,0.5,1,1.5,2,2.5,3,3.5,4,4.5,5],"format":".1f","tickSize":7,"labelFontSize":19,"labelPadding":2,"title":"Intensity (kW / m2 sr µm)","titleFontSize":22,"titlePadding":22}},
"color":{"datum":"Data Point 10","type":"nominal",
"scale":{"domain":["Data Point 10","Modeled Spectra high load","Data Point 24","Modeled Spectra low load"],"range":["#2B5C99","#ED7D31","#70AD47","#FFC000"]},
"legend":{"orient":"none","legendX":10,"legendY":8,"title":null,"strokeColor":"black","fillColor":"white","padding":5,"symbolType":"M-0.8,0H9.2","symbolSize":100,"symbolStrokeWidth":3,"labelFont":"DejaVu Serif","labelFontSize":20.5,"labelColor":"black","labelOffset":36,"rowPadding":8.5,"labelLimit":500}}
}},
{"data":{"name":"high"},"mark":{"type":"line","strokeWidth":3},
"encoding":{
"x":{"field":"wavelength","type":"quantitative","axis":null},
"y":{"field":"intensity","type":"quantitative","axis":null},
"color":{"datum":"Modeled Spectra high load","type":"nominal"}}},
{"data":{"name":"dp24"},"mark":{"type":"line","strokeWidth":3},
"encoding":{
"x":{"field":"wavelength","type":"quantitative","axis":null},
"y":{"field":"intensity","type":"quantitative","axis":null},
"color":{"datum":"Data Point 24","type":"nominal"}}},
{"data":{"name":"low"},"mark":{"type":"line","strokeWidth":3},
"encoding":{
"x":{"field":"wavelength","type":"quantitative","axis":null},
"y":{"field":"intensity","type":"quantitative","axis":null},
"color":{"datum":"Modeled Spectra low load","type":"nominal"}}},
{"data":{"name":"dp10"},"mark":{"type":"point","opacity":0},
"encoding":{
"x":{"field":"wavelength","type":"quantitative","axis":{"orient":"bottom","values":[1.804,1.8042,1.8044,1.8046,1.8048,1.805,1.8052,1.8054,1.8056,1.8058,1.806,1.8062,1.8064,1.8066,1.8068,1.807,1.8072,1.8074,1.8076,1.8078,1.808,1.8082,1.8084,1.8086,1.8088,1.809,1.8092,1.8094,1.8096,1.8098,1.81],"labels":false,"domain":false,"tickSize":-6,"title":null}},
"y":{"field":"intensity","type":"quantitative","axis":{"orient":"left","values":[0,0.1,0.2,0.3,0.4,0.5,0.6,0.7,0.8,0.9,1,1.1,1.2,1.3,1.4,1.5,1.6,1.7,1.8,1.9,2,2.1,2.2,2.3,2.4,2.5,2.6,2.7,2.8,2.9,3,3.1,3.2,3.3,3.4,3.5,3.6,3.7,3.8,3.9,4,4.1,4.2,4.3,4.4,4.5,4.6,4.7,4.8,4.9,5],"labels":false,"domain":false,"tickSize":-5,"title":null}}}}
],
"resolve":{"axis":{"x":"independent","y":"independent"}}
}
